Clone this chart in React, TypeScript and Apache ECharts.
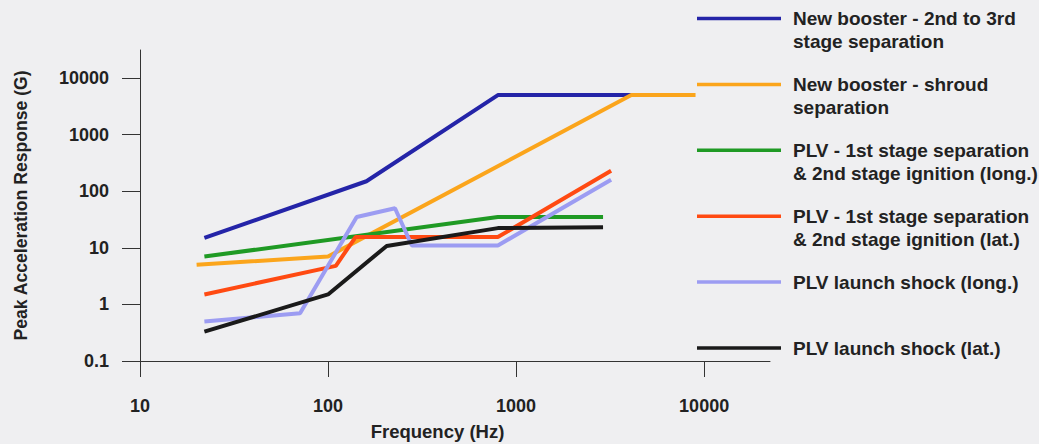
import React, { useEffect, useRef } from "react";
import * as echarts from "echarts";

const seriesNames = [
  "New booster - 2nd to 3rd\nstage separation",
  "New booster - shroud\nseparation",
  "PLV - 1st stage separation\n& 2nd stage ignition (long.)",
  "PLV - 1st stage separation\n& 2nd stage ignition (lat.)",
  "PLV launch shock (long.)",
  "PLV launch shock (lat.)",
];
const seriesColors = ["#2424a8", "#fba51c", "#1f9a24", "#ff4a12", "#9c9cf2", "#1a1a1a"];

const freqBlue = [22, 160, 800, 4500];
const valBlue = [15, 150, 5000, 5000];
const freqOrange = [20, 100, 4100, 9000];
const valOrange = [5, 7, 5000, 5000];
const freqGreen = [22, 800, 2900];
const valGreen = [7, 35, 35];
const freqRed = [22, 110, 140, 800, 3200];
const valRed = [1.5, 4.8, 15.5, 15.5, 230];
const freqPurple = [22, 71, 142, 227, 279, 800, 3200];
const valPurple = [0.5, 0.7, 35, 50, 11, 11, 160];
const freqBlack = [22, 100, 205, 800, 2900];
const valBlack = [0.33, 1.5, 10.8, 22.3, 23];

const xTicks = [10, 100, 1000, 10000];
const yTicks = [0.1, 1, 10, 100, 1000, 10000];

const allFreq = [freqBlue, freqOrange, freqGreen, freqRed, freqPurple, freqBlack];
const allVal = [valBlue, valOrange, valGreen, valRed, valPurple, valBlack];

const FONT = "'Liberation Sans', Arial, sans-serif";

export default function App() {
  const ref = useRef<HTMLDivElement>(null);
  useEffect(() => {
    if (!ref.current) return;
    const chart = echarts.init(ref.current, null, { renderer: "svg" });
    const series = allFreq.map((fx, i) => ({
      type: "line",
      name: seriesNames[i].replace("\n", " "),
      data: fx.map((f, j) => [f, allVal[i][j]]),
      showSymbol: false,
      symbol: "none",
      lineStyle: { color: seriesColors[i], width: 4 },
      itemStyle: { color: seriesColors[i] },
      z: 2,
    }));
    const legendGraphics: any[] = [];
    seriesNames.forEach((n, i) => {
      const y = 18.5 + i * 65.9;
      legendGraphics.push({
        type: "line",
        shape: { x1: 697, y1: y, x2: 781, y2: y },
        style: { stroke: seriesColors[i], lineWidth: 3.5 },
      });
      legendGraphics.push({
        type: "text",
        x: 793,
        y: y - 11.5,
        style: {
          text: n,
          fill: "#222",
          font: `bold 19px ${FONT}`,
          lineHeight: 23,
          verticalAlign: "top",
          align: "left",
        },
      });
    });
    const fmt = (v: number) => (v < 1 ? String(v) : String(Math.round(v)));
    chart.setOption({
      animation: false,
      backgroundColor: "#efeff1",
      grid: { left: 140, right: 269, top: 50, bottom: 83, outerBoundsMode: "none" },
      xAxis: {
        type: "log",
        logBase: 10,
        min: 10,
        max: 22400,
        name: "Frequency (Hz)",
        nameLocation: "middle",
        nameGap: 61,
        nameTextStyle: { fontFamily: FONT, fontWeight: "bold", fontSize: 18.5, color: "#222", padding: [0, 35, 0, 0] },
        axisLine: { lineStyle: { color: "#333", width: 1 } },
        axisTick: { length: 16, inside: false, lineStyle: { color: "#333" }, customValues: xTicks },
        axisLabel: { customValues: xTicks, margin: 36, fontFamily: FONT, fontWeight: "bold", fontSize: 18, color: "#222", formatter: fmt },
        splitLine: { show: false },
        minorTick: { show: false },
      },
      yAxis: {
        type: "log",
        logBase: 10,
        min: 0.1,
        max: 31300,
        name: "Peak Acceleration Response (G)",
        nameLocation: "middle",
        nameGap: 110,
        nameTextStyle: { fontFamily: FONT, fontWeight: "bold", fontSize: 17.6, color: "#222" },
        axisLine: { lineStyle: { color: "#333", width: 1 } },
        axisTick: { length: 18, lineStyle: { color: "#333" }, customValues: yTicks },
        axisLabel: {
          customValues: yTicks,
          margin: 31,
          fontFamily: FONT,
          fontWeight: "bold",
          fontSize: 18,
          color: "#222",
          formatter: fmt,
        },
        splitLine: { show: false },
      },
      graphic: legendGraphics,
      series,
    });
    return () => chart.dispose();
  }, []);
  return <div ref={ref} style={{ position: "fixed", left: 0, top: 0, width: 1039, height: 444 }} />;
}
